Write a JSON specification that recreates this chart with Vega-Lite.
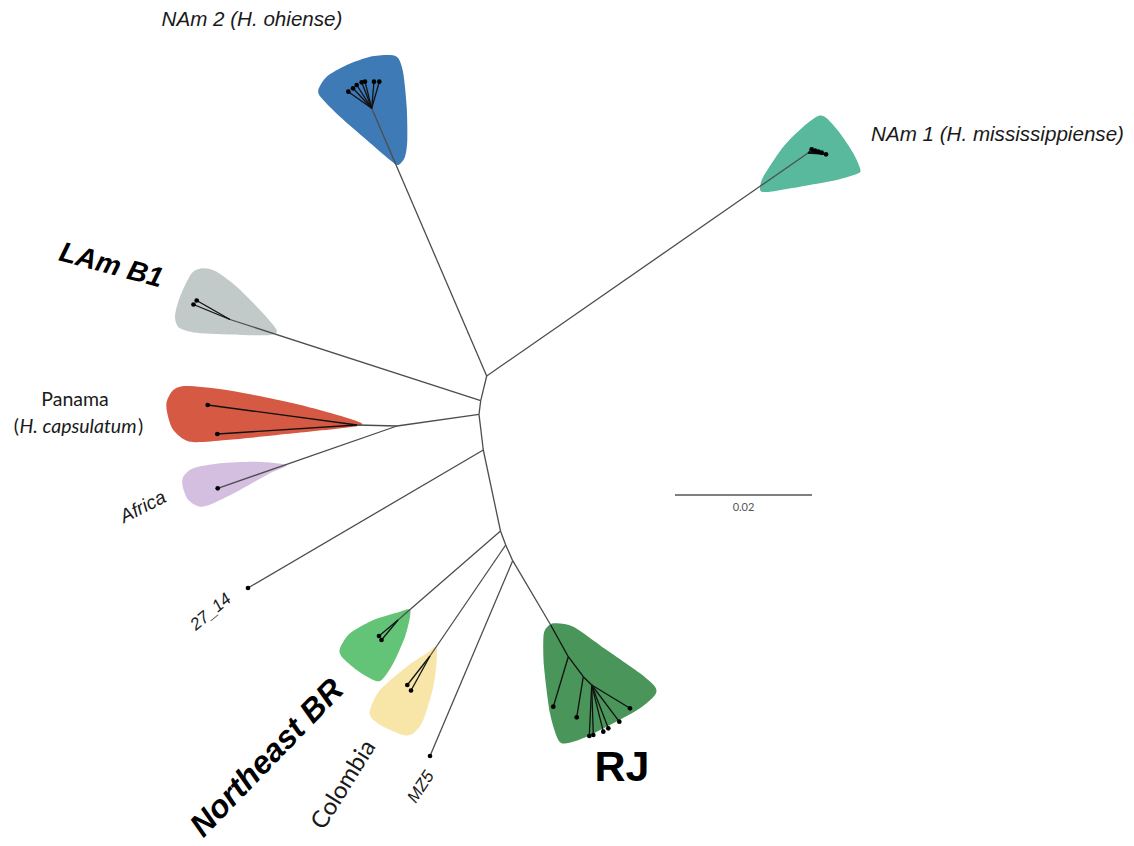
{
  "$schema": "https://vega.github.io/schema/vega-lite/v6.json",
  "autosize": {"type": "fit", "contains": "padding"},
  "width": 1134,
  "height": 846,
  "padding": 0,
  "background": "white",
  "config": {"view": {"stroke": null}},
  "datasets": {
    "hulls": [
      {"clade": "NAm2", "i": 0, "x": 318.3, "y": 90}, {"clade": "NAm2", "i": 1, "x": 326.7, "y": 76.7}, {"clade": "NAm2", "i": 2, "x": 346.7, "y": 65}, {"clade": "NAm2", "i": 3, "x": 370, "y": 56.7}, {"clade": "NAm2", "i": 4, "x": 390, "y": 55}, {"clade": "NAm2", "i": 5, "x": 398.3, "y": 58.3}, {"clade": "NAm2", "i": 6, "x": 403.3, "y": 73.3}, {"clade": "NAm2", "i": 7, "x": 406.7, "y": 106.7}, {"clade": "NAm2", "i": 8, "x": 407.3, "y": 140}, {"clade": "NAm2", "i": 9, "x": 405, "y": 156.7}, {"clade": "NAm2", "i": 10, "x": 398.3, "y": 165}, {"clade": "NAm2", "i": 11, "x": 390, "y": 160}, {"clade": "NAm2", "i": 12, "x": 366.7, "y": 140}, {"clade": "NAm2", "i": 13, "x": 340, "y": 116.7}, {"clade": "NAm2", "i": 14, "x": 321.7, "y": 98.3},
      {"clade": "NAm1", "i": 0, "x": 760, "y": 188.3}, {"clade": "NAm1", "i": 1, "x": 763.3, "y": 176.7}, {"clade": "NAm1", "i": 2, "x": 783.3, "y": 146.7}, {"clade": "NAm1", "i": 3, "x": 803.3, "y": 126.7}, {"clade": "NAm1", "i": 4, "x": 818.3, "y": 116}, {"clade": "NAm1", "i": 5, "x": 826.7, "y": 118.3}, {"clade": "NAm1", "i": 6, "x": 840, "y": 133.3}, {"clade": "NAm1", "i": 7, "x": 853.3, "y": 153.3}, {"clade": "NAm1", "i": 8, "x": 860, "y": 168.3}, {"clade": "NAm1", "i": 9, "x": 858.3, "y": 173.3}, {"clade": "NAm1", "i": 10, "x": 836.7, "y": 180}, {"clade": "NAm1", "i": 11, "x": 800, "y": 186.7}, {"clade": "NAm1", "i": 12, "x": 770, "y": 191.7}, {"clade": "NAm1", "i": 13, "x": 761.7, "y": 191.7},
      {"clade": "LAmB1", "i": 0, "x": 175, "y": 316.7}, {"clade": "LAmB1", "i": 1, "x": 180, "y": 296.7}, {"clade": "LAmB1", "i": 2, "x": 191.7, "y": 273.3}, {"clade": "LAmB1", "i": 3, "x": 203.3, "y": 268.3}, {"clade": "LAmB1", "i": 4, "x": 216.7, "y": 271.7}, {"clade": "LAmB1", "i": 5, "x": 236.7, "y": 286.7}, {"clade": "LAmB1", "i": 6, "x": 260, "y": 310}, {"clade": "LAmB1", "i": 7, "x": 276.7, "y": 330}, {"clade": "LAmB1", "i": 8, "x": 270, "y": 335}, {"clade": "LAmB1", "i": 9, "x": 243.3, "y": 335}, {"clade": "LAmB1", "i": 10, "x": 200, "y": 333.3}, {"clade": "LAmB1", "i": 11, "x": 180, "y": 328.3},
      {"clade": "Panama", "i": 0, "x": 166.7, "y": 401.7}, {"clade": "Panama", "i": 1, "x": 173.3, "y": 390}, {"clade": "Panama", "i": 2, "x": 186.7, "y": 386}, {"clade": "Panama", "i": 3, "x": 226.7, "y": 390}, {"clade": "Panama", "i": 4, "x": 293.3, "y": 403.3}, {"clade": "Panama", "i": 5, "x": 343.3, "y": 416.7}, {"clade": "Panama", "i": 6, "x": 361.7, "y": 423.3}, {"clade": "Panama", "i": 7, "x": 353.3, "y": 426.7}, {"clade": "Panama", "i": 8, "x": 293.3, "y": 433.3}, {"clade": "Panama", "i": 9, "x": 226.7, "y": 440}, {"clade": "Panama", "i": 10, "x": 190, "y": 441.7}, {"clade": "Panama", "i": 11, "x": 173.3, "y": 430}, {"clade": "Panama", "i": 12, "x": 167.3, "y": 413.3},
      {"clade": "Africa", "i": 0, "x": 183.3, "y": 476.7}, {"clade": "Africa", "i": 1, "x": 193.3, "y": 468.3}, {"clade": "Africa", "i": 2, "x": 220, "y": 463.3}, {"clade": "Africa", "i": 3, "x": 256.7, "y": 461.7}, {"clade": "Africa", "i": 4, "x": 286.7, "y": 465}, {"clade": "Africa", "i": 5, "x": 270, "y": 473.3}, {"clade": "Africa", "i": 6, "x": 240, "y": 490}, {"clade": "Africa", "i": 7, "x": 213.3, "y": 503.3}, {"clade": "Africa", "i": 8, "x": 200, "y": 506.7}, {"clade": "Africa", "i": 9, "x": 188.3, "y": 500}, {"clade": "Africa", "i": 10, "x": 182.7, "y": 486.7},
      {"clade": "NortheastBR", "i": 0, "x": 340, "y": 648.3}, {"clade": "NortheastBR", "i": 1, "x": 350, "y": 633.3}, {"clade": "NortheastBR", "i": 2, "x": 373.3, "y": 620}, {"clade": "NortheastBR", "i": 3, "x": 396.7, "y": 612.7}, {"clade": "NortheastBR", "i": 4, "x": 409.3, "y": 609.3}, {"clade": "NortheastBR", "i": 5, "x": 410, "y": 616.7}, {"clade": "NortheastBR", "i": 6, "x": 405, "y": 636.7}, {"clade": "NortheastBR", "i": 7, "x": 393.3, "y": 663.3}, {"clade": "NortheastBR", "i": 8, "x": 381.7, "y": 680}, {"clade": "NortheastBR", "i": 9, "x": 373.3, "y": 680}, {"clade": "NortheastBR", "i": 10, "x": 356.7, "y": 670}, {"clade": "NortheastBR", "i": 11, "x": 341.7, "y": 656.7},
      {"clade": "Colombia", "i": 0, "x": 370, "y": 710}, {"clade": "Colombia", "i": 1, "x": 380, "y": 690}, {"clade": "Colombia", "i": 2, "x": 406.7, "y": 666.7}, {"clade": "Colombia", "i": 3, "x": 426.7, "y": 653.3}, {"clade": "Colombia", "i": 4, "x": 436, "y": 646.7}, {"clade": "Colombia", "i": 5, "x": 436.7, "y": 660}, {"clade": "Colombia", "i": 6, "x": 433.3, "y": 686.7}, {"clade": "Colombia", "i": 7, "x": 423.3, "y": 720}, {"clade": "Colombia", "i": 8, "x": 413.3, "y": 733.3}, {"clade": "Colombia", "i": 9, "x": 403.3, "y": 735}, {"clade": "Colombia", "i": 10, "x": 383.3, "y": 726.7}, {"clade": "Colombia", "i": 11, "x": 371.7, "y": 718.3},
      {"clade": "RJ", "i": 0, "x": 545, "y": 630}, {"clade": "RJ", "i": 1, "x": 553.3, "y": 623.3}, {"clade": "RJ", "i": 2, "x": 573.3, "y": 626.7}, {"clade": "RJ", "i": 3, "x": 606.7, "y": 650}, {"clade": "RJ", "i": 4, "x": 640, "y": 673.3}, {"clade": "RJ", "i": 5, "x": 655, "y": 686.7}, {"clade": "RJ", "i": 6, "x": 655, "y": 695}, {"clade": "RJ", "i": 7, "x": 640, "y": 708.3}, {"clade": "RJ", "i": 8, "x": 613.3, "y": 723.3}, {"clade": "RJ", "i": 9, "x": 586.7, "y": 736.7}, {"clade": "RJ", "i": 10, "x": 566.7, "y": 743.3}, {"clade": "RJ", "i": 11, "x": 558.3, "y": 740}, {"clade": "RJ", "i": 12, "x": 550, "y": 713.3}, {"clade": "RJ", "i": 13, "x": 544, "y": 666.7}, {"clade": "RJ", "i": 14, "x": 543.3, "y": 640}
    ],
    "edges": [
      {"kind": "backbone", "x": 486.7, "y": 376, "x2": 480.7, "y2": 400.7},
      {"kind": "backbone", "x": 480.7, "y": 400.7, "x2": 479, "y2": 414.3},
      {"kind": "backbone", "x": 479, "y": 414.3, "x2": 483.3, "y2": 450},
      {"kind": "backbone", "x": 483.3, "y": 450, "x2": 500.5, "y2": 531},
      {"kind": "backbone", "x": 500.5, "y": 531, "x2": 505.7, "y2": 545},
      {"kind": "backbone", "x": 505.7, "y": 545, "x2": 512.7, "y2": 560.7},
      {"kind": "backbone", "x": 486.7, "y": 376, "x2": 371.7, "y2": 108.3},
      {"kind": "backbone", "x": 486.7, "y": 376, "x2": 808, "y2": 153},
      {"kind": "backbone", "x": 480.7, "y": 400.7, "x2": 230, "y2": 319.5},
      {"kind": "backbone", "x": 479, "y": 414.3, "x2": 397, "y2": 426},
      {"kind": "backbone", "x": 397, "y": 426, "x2": 357, "y2": 425},
      {"kind": "backbone", "x": 397, "y": 426, "x2": 217.7, "y2": 488.3},
      {"kind": "backbone", "x": 483.3, "y": 450, "x2": 248, "y2": 588},
      {"kind": "backbone", "x": 500.5, "y": 531, "x2": 398, "y2": 620},
      {"kind": "backbone", "x": 505.7, "y": 545, "x2": 430, "y2": 656},
      {"kind": "backbone", "x": 512.7, "y": 560.7, "x2": 430, "y2": 756},
      {"kind": "backbone", "x": 512.7, "y": 560.7, "x2": 550.7, "y2": 625},
      {"kind": "clade", "x": 371.7, "y": 108.3, "x2": 348.3, "y2": 91.7},
      {"kind": "clade", "x": 371.7, "y": 108.3, "x2": 353, "y2": 88.3},
      {"kind": "clade", "x": 371.7, "y": 108.3, "x2": 356.7, "y2": 85},
      {"kind": "clade", "x": 371.7, "y": 108.3, "x2": 361.7, "y2": 82.3},
      {"kind": "clade", "x": 371.7, "y": 108.3, "x2": 365, "y2": 81.7},
      {"kind": "clade", "x": 371.7, "y": 108.3, "x2": 374, "y2": 81.7},
      {"kind": "clade", "x": 371.7, "y": 108.3, "x2": 379.3, "y2": 81.7},
      {"kind": "clade", "x": 808, "y": 153, "x2": 811.7, "y2": 149.3},
      {"kind": "clade", "x": 808, "y": 153, "x2": 815, "y2": 150.7},
      {"kind": "clade", "x": 808, "y": 153, "x2": 818.3, "y2": 151.7},
      {"kind": "clade", "x": 808, "y": 153, "x2": 821.7, "y2": 152.7},
      {"kind": "clade", "x": 808, "y": 153, "x2": 826, "y2": 154.3},
      {"kind": "clade", "x": 230, "y": 319.5, "x2": 196.7, "y2": 300.5},
      {"kind": "clade", "x": 230, "y": 319.5, "x2": 193.5, "y2": 304.5},
      {"kind": "clade", "x": 357, "y": 425, "x2": 207.7, "y2": 405},
      {"kind": "clade", "x": 357, "y": 425, "x2": 217.3, "y2": 434},
      {"kind": "clade", "x": 398, "y": 620, "x2": 379, "y2": 636},
      {"kind": "clade", "x": 398, "y": 620, "x2": 381.5, "y2": 640},
      {"kind": "clade", "x": 430, "y": 656, "x2": 407.3, "y2": 685},
      {"kind": "clade", "x": 430, "y": 656, "x2": 411, "y2": 690.5},
      {"kind": "clade", "x": 550.7, "y": 625, "x2": 568.3, "y2": 656.7},
      {"kind": "clade", "x": 568.3, "y": 656.7, "x2": 583.3, "y2": 676.7},
      {"kind": "clade", "x": 583.3, "y": 676.7, "x2": 591.7, "y2": 685},
      {"kind": "clade", "x": 591.7, "y": 685, "x2": 630, "y2": 708.3},
      {"kind": "clade", "x": 568.3, "y": 656.7, "x2": 553.3, "y2": 706.7},
      {"kind": "clade", "x": 583.3, "y": 676.7, "x2": 576.7, "y2": 717.3},
      {"kind": "clade", "x": 591.7, "y": 685, "x2": 589.3, "y2": 736},
      {"kind": "clade", "x": 591.7, "y": 685, "x2": 593.3, "y2": 735},
      {"kind": "clade", "x": 591.7, "y": 685, "x2": 603.3, "y2": 731.7},
      {"kind": "clade", "x": 591.7, "y": 685, "x2": 608.3, "y2": 728.3},
      {"kind": "clade", "x": 591.7, "y": 685, "x2": 619.3, "y2": 721.7}
    ],
    "tips": [
      {"x": 348.3, "y": 91.7}, {"x": 353, "y": 88.3}, {"x": 356.7, "y": 85}, {"x": 361.7, "y": 82.3}, {"x": 365, "y": 81.7}, {"x": 374, "y": 81.7}, {"x": 379.3, "y": 81.7},
      {"x": 811.7, "y": 149.3}, {"x": 815, "y": 150.7}, {"x": 818.3, "y": 151.7}, {"x": 821.7, "y": 152.7}, {"x": 826, "y": 154.3},
      {"x": 196.7, "y": 300.5}, {"x": 193.5, "y": 304.5},
      {"x": 207.7, "y": 405}, {"x": 217.3, "y": 434},
      {"x": 217.7, "y": 488.3},
      {"x": 248, "y": 588},
      {"x": 379, "y": 636}, {"x": 381.5, "y": 640},
      {"x": 407.3, "y": 685}, {"x": 411, "y": 690.5},
      {"x": 430, "y": 756},
      {"x": 630, "y": 708.3}, {"x": 553.3, "y": 706.7}, {"x": 576.7, "y": 717.3}, {"x": 589.3, "y": 736}, {"x": 593.3, "y": 735}, {"x": 603.3, "y": 731.7}, {"x": 608.3, "y": 728.3}, {"x": 619.3, "y": 721.7}
    ],
    "scalebar": [{"x": 675, "y": 495, "x2": 812, "y2": 495, "label": "0.02", "ly": 508, "lx": 743.5}]
  },
  "encoding": {
    "x": {"field": "x", "type": "quantitative", "scale": {"domain": [0, 1134], "nice": false, "zero": false}, "axis": null},
    "y": {"field": "y", "type": "quantitative", "scale": {"domain": [0, 846], "nice": false, "zero": false, "reverse": true}, "axis": null}
  },
  "layer": [
    {
      "data": {"name": "hulls"},
      "mark": {"type": "line", "interpolate": "cardinal-closed", "tension": 0.2, "strokeWidth": 0, "fillOpacity": 1},
      "encoding": {
        "fill": {"field": "clade", "type": "nominal", "legend": null,
          "scale": {"domain": ["NAm2", "NAm1", "LAmB1", "Panama", "Africa", "NortheastBR", "Colombia", "RJ"],
                    "range": ["#3e7ab5", "#58b99c", "#c2c9c9", "#d65944", "#d4bfe1", "#63c477", "#f7e6a7", "#4a955a"]}},
        "order": {"field": "i", "type": "quantitative"}
      }
    },
    {
      "data": {"name": "edges"},
      "mark": {"type": "rule", "strokeWidth": 1.3},
      "encoding": {
        "x2": {"field": "x2"},
        "y2": {"field": "y2"},
        "color": {"field": "kind", "type": "nominal", "legend": null,
          "scale": {"domain": ["backbone", "clade"], "range": ["#4d4d4d", "#111111"]}}
      }
    },
    {
      "data": {"name": "tips"},
      "mark": {"type": "circle", "size": 22, "color": "#000000", "opacity": 1}
    },
    {
      "data": {"name": "scalebar"},
      "mark": {"type": "rule", "strokeWidth": 1.5, "color": "#555555"},
      "encoding": {"x2": {"field": "x2"}, "y2": {"field": "y2"}}
    },
    {
      "data": {"name": "scalebar"},
      "mark": {"type": "text", "font": "Lato", "fontSize": 11, "color": "#555555", "align": "center", "baseline": "middle"},
      "encoding": {"x": {"field": "lx", "type": "quantitative"}, "y": {"field": "ly", "type": "quantitative"}, "text": {"field": "label"}}
    },
    {
      "data": {"values": [{"label": "NAm 2 (H. ohiense)", "x": 252, "y": 20}]},
      "mark": {"type": "text", "font": "Liberation Sans", "fontStyle": "italic", "fontSize": 20.6, "color": "#1a1a1a", "align": "center", "baseline": "middle"},
      "encoding": {"text": {"field": "label"}}
    },
    {
      "data": {"values": [{"label": "NAm 1 (H. mississippiense)", "x": 997.5, "y": 135}]},
      "mark": {"type": "text", "font": "Liberation Sans", "fontStyle": "italic", "fontSize": 20.6, "color": "#1a1a1a", "align": "center", "baseline": "middle"},
      "encoding": {"text": {"field": "label"}}
    },
    {
      "data": {"values": [{"label": "LAm B1", "x": 111, "y": 266}]},
      "mark": {"type": "text", "font": "Liberation Sans", "fontStyle": "italic", "fontWeight": "bold", "fontSize": 28, "angle": 15, "color": "#000000", "align": "center", "baseline": "middle"},
      "encoding": {"text": {"field": "label"}}
    },
    {
      "data": {"values": [{"label": "Panama", "x": 75, "y": 400}]},
      "mark": {"type": "text", "font": "Lato", "fontSize": 19.5, "color": "#1a1a1a", "align": "center", "baseline": "middle"},
      "encoding": {"text": {"field": "label"}}
    },
    {
      "data": {"values": [{"label": "H. capsulatum", "x": 78, "y": 427}]},
      "mark": {"type": "text", "font": "Lato", "fontStyle": "italic", "fontSize": 19.5, "color": "#1a1a1a", "align": "center", "baseline": "middle"},
      "encoding": {"text": {"field": "label"}}
    },
    {
      "data": {"values": [{"label": "(", "x": 19, "y": 427}]},
      "mark": {"type": "text", "font": "Lato", "fontSize": 19.5, "color": "#1a1a1a", "align": "right", "baseline": "middle"},
      "encoding": {"text": {"field": "label"}}
    },
    {
      "data": {"values": [{"label": ")", "x": 138, "y": 427}]},
      "mark": {"type": "text", "font": "Lato", "fontSize": 19.5, "color": "#1a1a1a", "align": "left", "baseline": "middle"},
      "encoding": {"text": {"field": "label"}}
    },
    {
      "data": {"values": [{"label": "Africa", "x": 143, "y": 507}]},
      "mark": {"type": "text", "font": "Liberation Sans", "fontStyle": "italic", "fontSize": 19, "angle": -27, "color": "#1a1a1a", "align": "center", "baseline": "middle"},
      "encoding": {"text": {"field": "label"}}
    },
    {
      "data": {"values": [{"label": "27_14", "x": 211, "y": 612}]},
      "mark": {"type": "text", "font": "Liberation Sans", "fontStyle": "italic", "fontSize": 17, "angle": -40, "color": "#1a1a1a", "align": "center", "baseline": "middle"},
      "encoding": {"text": {"field": "label"}}
    },
    {
      "data": {"values": [{"label": "Northeast BR", "x": 267, "y": 758}]},
      "mark": {"type": "text", "font": "Liberation Sans", "fontStyle": "italic", "fontWeight": "bold", "fontSize": 32, "angle": -46, "color": "#000000", "align": "center", "baseline": "middle"},
      "encoding": {"text": {"field": "label"}}
    },
    {
      "data": {"values": [{"label": "Colombia", "x": 344, "y": 785}]},
      "mark": {"type": "text", "font": "Lato", "fontSize": 24, "angle": -58, "color": "#1a1a1a", "align": "center", "baseline": "middle"},
      "encoding": {"text": {"field": "label"}}
    },
    {
      "data": {"values": [{"label": "MZ5", "x": 421, "y": 787}]},
      "mark": {"type": "text", "font": "Liberation Sans", "fontStyle": "italic", "fontSize": 17, "angle": -56, "color": "#1a1a1a", "align": "center", "baseline": "middle"},
      "encoding": {"text": {"field": "label"}}
    },
    {
      "data": {"values": [{"label": "RJ", "x": 622, "y": 768}]},
      "mark": {"type": "text", "font": "Liberation Sans", "fontWeight": "bold", "fontSize": 43, "color": "#000000", "align": "center", "baseline": "middle"},
      "encoding": {"text": {"field": "label"}}
    }
  ]
}
